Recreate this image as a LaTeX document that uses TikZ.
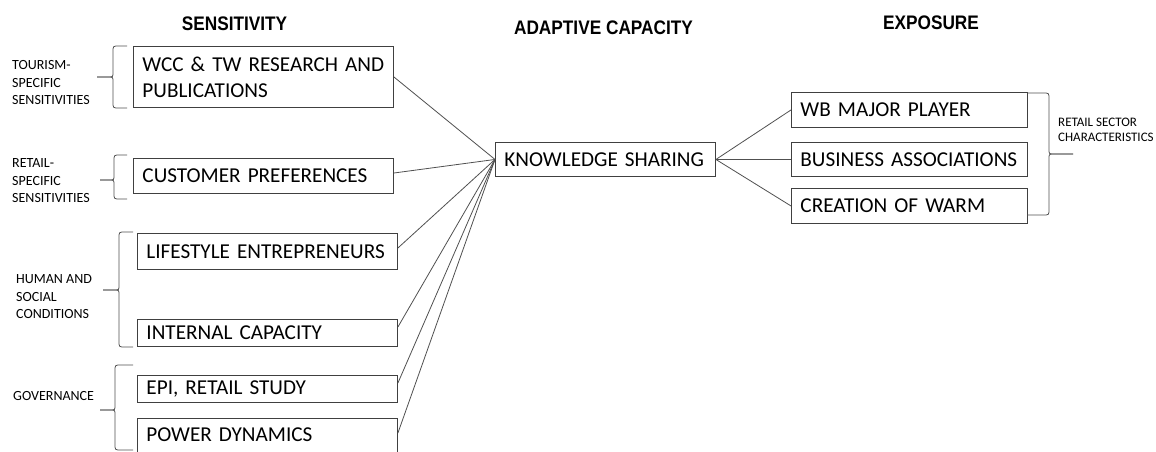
\documentclass[tikz,border=0pt]{standalone}
\usepackage{fontspec}
\setmainfont{Carlito}
\newfontfamily\hdrfont[FakeStretch=0.88]{Liberation Sans}
\definecolor{boxc}{HTML}{404040}
\definecolor{linec}{HTML}{505050}
\newcommand{\bracL}[6]{% xe xv xt yt ym yb
  \draw[brc] (#1,#4) -- (#2+6,#4) .. controls (#2,#4) .. (#2,#4+6) -- (#2,#5-5) .. controls (#2,#5) .. (#2-5,#5) -- (#3,#5);
  \draw[brc] (#3,#5) -- (#2-5,#5) .. controls (#2,#5) .. (#2,#5+5) -- (#2,#6-6) .. controls (#2,#6) .. (#2+6,#6) -- (#1,#6);}
\newcommand{\bracR}[6]{% xe xv xt yt ym yb
  \draw[brc] (#1,#4) -- (#2-6,#4) .. controls (#2,#4) .. (#2,#4+6) -- (#2,#5-5) .. controls (#2,#5) .. (#2+5,#5) -- (#3,#5);
  \draw[brc] (#3,#5) -- (#2+5,#5) .. controls (#2,#5) .. (#2,#5+5) -- (#2,#6-6) .. controls (#2,#6) .. (#2-6,#6) -- (#1,#6);}
\tikzset{
  bx/.style={draw=boxc, line width=0.9pt, anchor=north west, inner xsep=9pt, inner ysep=0pt,
    align=left, font=\fontsize{21.2}{26}\selectfont},
  conn/.style={draw=linec, line width=0.8pt},
  brc/.style={draw=linec, line width=0.8pt},
  lbl/.style={anchor=west, align=left, inner sep=0pt, font=\fontsize{14}{17.5}\selectfont},
  rlbl/.style={anchor=west, align=left, inner sep=0pt, font=\fontsize{13}{15}\selectfont},
  hdr/.style={inner sep=0pt, font=\hdrfont\bfseries\fontsize{19.6}{22}\selectfont}
}
\begin{document}
\begin{tikzpicture}[x=1pt,y=-1pt]
\useasboundingbox[fill=white] (0,0) rectangle (1156,451);
% headers
\node[hdr] (hS) at (234.5,24) {SENSITIVITY};
\node[hdr] (hA) at (603.5,28) {ADAPTIVE CAPACITY};
\node[hdr] (hE) at (931,22.5) {EXPOSURE};
% left boxes
\node[bx, minimum width=260pt, text width=242pt, minimum height=61pt] (wcc) at (133,46) {WCC \& TW RESEARCH AND\\PUBLICATIONS};
\node[bx, minimum width=260pt, text width=242pt, minimum height=35pt] (cust) at (133,158) {CUSTOMER PREFERENCES};
\node[bx, minimum width=260pt, text width=242pt, minimum height=36pt] (life) at (137,233) {LIFESTYLE ENTREPRENEURS};
\node[bx, minimum width=260pt, text width=242pt, minimum height=27pt] (int) at (137,319) {INTERNAL CAPACITY};
\node[bx, minimum width=260pt, text width=242pt, minimum height=27pt] (epi) at (137,375) {EPI, RETAIL STUDY};
\node[bx, minimum width=260pt, text width=242pt, minimum height=38pt] (pow) at (137,418) {\raisebox{5pt}{POWER DYNAMICS}};
% centre
\node[bx, minimum width=220pt, text width=202pt, minimum height=34pt] (ks) at (495,142) {KNOWLEDGE SHARING};
% right boxes
\node[bx, minimum width=236pt, text width=218pt, minimum height=35pt] (wb) at (791,92) {WB MAJOR PLAYER};
\node[bx, minimum width=236pt, text width=218pt, minimum height=34pt] (ba) at (791,142) {BUSINESS ASSOCIATIONS};
\node[bx, minimum width=236pt, text width=218pt, minimum height=35pt] (cw) at (791,188) {CREATION OF WARM};
% connectors
\draw[conn] (wcc.east) -- (ks.west);
\draw[conn] ([yshift=-15pt]cust.north east) -- (ks.west);
\draw[conn] ([yshift=-15pt]life.north east) -- (ks.west);
\draw[conn] ([yshift=-8pt]int.north east) -- (ks.west);
\draw[conn] ([yshift=-8pt]epi.north east) -- (ks.west);
\draw[conn] ([yshift=-15pt]pow.north east) -- (ks.west);
\draw[conn] (ks.east) -- (wb.west);
\draw[conn] (ks.east) -- (ba.west);
\draw[conn] (ks.east) -- (cw.west);
% braces
\bracL{127}{113}{97}{46}{77}{108}
\bracL{127}{114}{100}{155}{180}{199}
\bracL{133}{119}{103}{232}{290}{347}
\bracL{133}{115}{100}{365}{410}{450}
\bracR{1027}{1049}{1073}{93}{154}{215}
% labels
\node[lbl] (l1) at (12,82.5) {TOURISM-\\SPECIFIC\\SENSITIVITIES};
\node[lbl] (l2) at (12,181) {RETAIL-\\SPECIFIC\\SENSITIVITIES};
\node[lbl] (l3) at (16,297) {HUMAN AND\\SOCIAL\\CONDITIONS};
\node[lbl] (l4) at (13,395.7) {GOVERNANCE};
\node[rlbl] (l5) at (1058,130) {RETAIL SECTOR\\CHARACTERISTICS};
\end{tikzpicture}
\end{document}
